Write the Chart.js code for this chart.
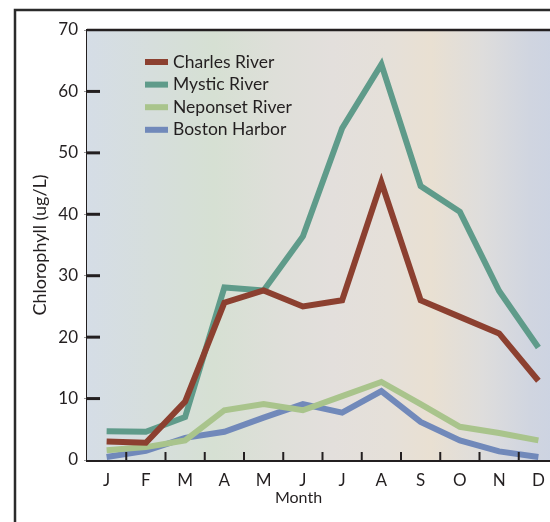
<!DOCTYPE html>
<html>
<head>
<meta charset="utf-8">
<script src="https://cdn.jsdelivr.net/npm/chart.js@4/dist/chart.umd.min.js"></script>
<style>
  html, body { margin: 0; padding: 0; background: #fff; overflow: hidden; }
  #wrap { width: 576px; height: 522px; }
</style>
</head>
<body>
<div id="wrap"><canvas id="chlorophyll_plot" width="576" height="522"></canvas></div>
<script>
'use strict';

const months = ['J', 'F', 'M', 'A', 'M', 'J', 'J', 'A', 'S', 'O', 'N', 'D'];
const charlesRiver = [3.0, 2.8, 9.5, 25.6, 27.6, 25.0, 26.0, 45.2, 26.0, 23.3, 20.6, 12.9];
const mysticRiver = [4.7, 4.6, 7.0, 28.1, 27.6, 36.4, 54.0, 64.4, 44.6, 40.4, 27.5, 18.3];
const neponsetRiver = [1.6, 2.1, 3.2, 8.1, 9.1, 8.1, 10.4, 12.7, 9.1, 5.4, 4.4, 3.2];
const bostonHarbor = [0.5, 1.5, 3.6, 4.6, 6.9, 9.1, 7.7, 11.2, 6.2, 3.2, 1.4, 0.5];
const seriesNames = ['Charles River', 'Mystic River', 'Neponset River', 'Boston Harbor'];
const seriesColors = ['#8C4030', '#5F9B8A', '#A9C48C', '#7189BA'];

const FONT = 'Lato, "Open Sans", sans-serif';
const INK = '#231f20';

// background wash, frame, inner ticks and legend
const decorations = {
    id: 'decorations',
    beforeDraw(chart) {
        const ctx = chart.ctx;
        ctx.save();
        ctx.strokeStyle = '#2b2b2b';
        ctx.lineWidth = 2.5;
        ctx.strokeRect(15, 10, 1000, 1000);
        ctx.restore();
    },
    beforeDatasetsDraw(chart) {
        const { ctx, chartArea: a } = chart;
        const g = ctx.createLinearGradient(a.left, 0, a.right, 0);
        g.addColorStop(0, '#D5DDE6');
        g.addColorStop(0.14, '#D6DEDC');
        g.addColorStop(0.27, '#D6E0D3');
        g.addColorStop(0.40, '#DEDFD9');
        g.addColorStop(0.52, '#E3DFDC');
        g.addColorStop(0.64, '#E5E0D9');
        g.addColorStop(0.73, '#E9E0D2');
        g.addColorStop(0.84, '#DEDDDC');
        g.addColorStop(0.94, '#D0D5E0');
        g.addColorStop(1, '#CCD3E2');
        ctx.save();
        ctx.fillStyle = g;
        ctx.fillRect(a.left, a.top, a.right - a.left, a.bottom - a.top);
        ctx.restore();
    },
    afterDraw(chart) {
        const { ctx, chartArea: a, scales } = chart;
        ctx.save();
        ctx.strokeStyle = INK;

        // top border of plot
        ctx.lineWidth = 2.5;
        ctx.beginPath();
        ctx.moveTo(a.left, a.top);
        ctx.lineTo(a.right + 20, a.top);
        ctx.stroke();

        // inner y ticks
        ctx.lineWidth = 3;
        scales.y.ticks.forEach(t => {
            if (t.value === 0 || t.value === scales.y.max) return;
            const y = scales.y.getPixelForValue(t.value);
            ctx.beginPath();
            ctx.moveTo(a.left, y);
            ctx.lineTo(a.left + 13, y);
            ctx.stroke();
        });

        // x ticks between months
        ctx.lineWidth = 2;
        for (let i = 0; i < months.length - 1; i++) {
            const x = (scales.x.getPixelForValue(i) + scales.x.getPixelForValue(i + 1)) / 2;
            ctx.beginPath();
            ctx.moveTo(x, a.bottom + 2);
            ctx.lineTo(x, a.bottom - 8);
            ctx.stroke();
        }

        // legend
        ctx.font = '17.5px ' + FONT;
        ctx.textBaseline = 'middle';
        seriesNames.forEach((name, i) => {
            const y = a.top + 32 + i * 22.6;
            ctx.fillStyle = seriesColors[i];
            ctx.fillRect(a.left + 58, y - 3, 23, 6);
            ctx.fillStyle = INK;
            ctx.fillText(name, a.left + 86, y);
        });

        // x axis title, centred on the figure frame
        ctx.textAlign = 'center';
        ctx.textBaseline = 'middle';
        ctx.font = '16px ' + FONT;
        ctx.fillText('Month', (a.left + a.right) / 2 - 24, a.bottom + 38);
        ctx.restore();
    }
};

const ctx = document.getElementById('chlorophyll_plot').getContext('2d');
new Chart(ctx, {
    type: 'line',
    data: {
        labels: months,
        datasets: seriesNames.map((name, i) => ({
            label: name,
            data: [charlesRiver, mysticRiver, neponsetRiver, bostonHarbor][i],
            borderColor: seriesColors[i],
            backgroundColor: seriesColors[i],
            borderWidth: 6,
            pointRadius: 0,
            tension: 0,
            fill: false
        }))
    },
    options: {
        responsive: false,
        animation: false,
        layout: { padding: { top: 30, right: 18, bottom: 0, left: 0 } },
        plugins: {
            legend: { display: false },
            tooltip: { enabled: false }
        },
        scales: {
            x: {
                type: 'category',
                offset: true,
                grid: { display: true, drawOnChartArea: false, drawTicks: false, offset: true },
                border: { color: INK, width: 3 },
                ticks: { color: INK, font: { family: FONT, size: 17 }, padding: 10 },
                afterFit: scale => { scale.height = 62; }
            },
            y: {
                min: 0,
                max: 70,
                ticks: { stepSize: 10, color: INK, font: { family: FONT, size: 17 }, padding: 6 },
                grid: { drawOnChartArea: false, drawTicks: true, tickLength: 3, color: '#9a9a9a', lineWidth: 1 },
                border: { color: INK, width: 3 },
                title: {
                    display: true,
                    text: 'Chlorophyll (ug/L)',
                    color: INK,
                    font: { family: FONT, size: 18 },
                    padding: { top: 29, bottom: 0 }
                },
                afterFit: scale => { scale.width = 87; }
            }
        }
    },
    plugins: [decorations]
});
</script>
</body>
</html>
